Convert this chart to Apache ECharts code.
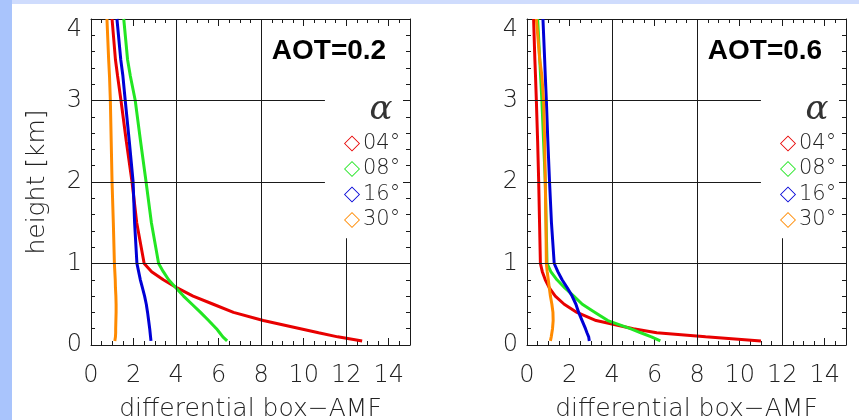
<!DOCTYPE html>
<html><head><meta charset="utf-8">
<script src="https://cdn.jsdelivr.net/npm/echarts@6/dist/echarts.min.js"></script>
<style>html,body{margin:0;padding:0;background:#fff}#c{width:859px;height:420px}</style>
</head><body><div id="c"></div><script>
// heights [km] at which the profiles are sampled
const heights = [4.0, 3.5, 3.3, 3.0, 2.5, 2.0, 1.5, 1.0, 0.9, 0.8, 0.7, 0.6, 0.5, 0.4, 0.3, 0.2, 0.15, 0.1, 0.05];
// AOT = 0.2 panel, differential box-AMF per elevation angle
const aot02_a04 = [0.99, 1.15, 1.25, 1.41, 1.66, 1.93, 2.15, 2.5, 2.85, 3.4, 4.05, 4.8, 5.75, 6.7, 8.1, 9.85, 10.7, 11.6, 12.75];
const aot02_a08 = [1.54, 1.72, 1.85, 2.08, 2.33, 2.59, 2.84, 3.18, 3.4, 3.65, 4.0, 4.35, 4.75, 5.15, 5.53, 5.9, 6.05, 6.2, 6.4];
const aot02_a16 = [1.22, 1.4, 1.5, 1.61, 1.8, 1.98, 2.05, 2.16, 2.24, 2.32, 2.42, 2.52, 2.6, 2.66, 2.71, 2.76, 2.78, 2.8, 2.82];
const aot02_a30 = [0.75, 0.83, 0.87, 0.91, 0.95, 0.99, 1.05, 1.1, 1.12, 1.14, 1.15, 1.17, 1.18, 1.18, 1.17, 1.16, 1.16, 1.15, 1.12];
// AOT = 0.6 panel
const aot06_a04 = [0.31, 0.37, 0.4, 0.44, 0.5, 0.55, 0.59, 0.63, 0.72, 0.86, 1.05, 1.33, 1.75, 2.35, 3.25, 5.0, 6.1, 8.4, 11.0];
const aot06_a08 = [0.5, 0.6, 0.64, 0.7, 0.78, 0.86, 0.9, 0.94, 1.12, 1.41, 1.78, 2.2, 2.6, 3.2, 3.8, 4.86, 5.35, 5.85, 6.27];
const aot06_a16 = [0.75, 0.83, 0.86, 0.91, 0.98, 1.06, 1.15, 1.28, 1.45, 1.65, 1.9, 2.12, 2.3, 2.43, 2.59, 2.75, 2.82, 2.9, 2.93];
const aot06_a30 = [0.44, 0.6, 0.7, 0.78, 0.83, 0.86, 0.89, 0.91, 0.95, 1.0, 1.05, 1.1, 1.17, 1.22, 1.23, 1.2, 1.17, 1.14, 1.1];

const seriesNames = ['04°', '08°', '16°', '30°'];
const panelTitles = ['AOT=0.2', 'AOT=0.6'];
const panelData = [
  [aot02_a04, aot02_a08, aot02_a16, aot02_a30],
  [aot06_a04, aot06_a08, aot06_a16, aot06_a30]
];
const xName = 'differential box−AMF';
const yName = 'height [km]';
// grid lines (data units)
const gridFullX = [4, 8];
const gridShortX = 12, gridShortXTop = 1.31;
const gridFullY = [1];
const gridShortY = [2, 3], gridShortYEnd = 11;

const colors = ['#e80000', '#22e622', '#0000d6', '#ff8a00'];
const ink = '#1a1a1a';
const thinFont = 'DejaVu Sans';
const diamondRing = 'path://M0,-8L8,0L0,8L-8,0ZM0,-6.8L-6.8,0L0,6.8L6.8,0Z';

const chart = echarts.init(document.getElementById('c'), null, {renderer: 'canvas'});

const gridLeft = [91, 527];
const grids = gridLeft.map(l => ({left: l, top: 19, width: 319, height: 326, outerBoundsMode: 'none', containLabel: false}));

const xAxes = [], yAxes = [], series = [];
gridLeft.forEach((gl, p) => {
  xAxes.push({
    type: 'value', gridIndex: p, position: 'bottom', min: 0, max: 15, interval: 2,
    axisLine: {show: true, onZero: false, lineStyle: {color: ink, width: 1}},
    axisTick: {show: true, inside: true, length: 7, lineStyle: {color: ink}},
    minorTick: {show: true, splitNumber: 4, length: 4, lineStyle: {color: ink}},
    splitLine: {show: false},
    axisLabel: {show: true, margin: 19, fontSize: 24, fontFamily: thinFont, fontWeight: 200, color: '#222', showMaxLabel: false},
    name: xName, nameLocation: 'middle', nameGap: 52,
    nameTextStyle: {fontSize: 25, fontFamily: thinFont, fontWeight: 200, color: '#222'}
  });
  xAxes.push({
    type: 'value', gridIndex: p, position: 'top', min: 0, max: 15, interval: 2,
    axisLine: {show: true, onZero: false, lineStyle: {color: ink, width: 1}},
    axisTick: {show: true, inside: true, length: 7, lineStyle: {color: ink}},
    minorTick: {show: true, splitNumber: 4, length: 4, lineStyle: {color: ink}},
    splitLine: {show: false}, axisLabel: {show: false}
  });
  yAxes.push({
    type: 'value', gridIndex: p, position: 'left', min: 0, max: 4, interval: 1,
    axisLine: {show: true, onZero: false, lineStyle: {color: ink, width: 1}},
    axisTick: {show: true, inside: true, length: 7, lineStyle: {color: ink}},
    minorTick: {show: true, splitNumber: 5, length: 4, lineStyle: {color: ink}},
    splitLine: {show: false},
    axisLabel: {
      show: true, margin: 9, fontSize: 24, fontFamily: thinFont, fontWeight: 200, color: '#222',
      formatter: v => v === 4 ? '{t|4}' : String(v),
      rich: {t: {padding: [22, 0, 0, 0], fontSize: 24, fontFamily: thinFont, fontWeight: 200, color: '#222'}}
    },
    name: p === 0 ? yName : '', nameLocation: 'middle', nameGap: 41, nameRotate: 90,
    nameTextStyle: {fontSize: 25, fontFamily: thinFont, fontWeight: 200, color: '#222'}
  });
  yAxes.push({
    type: 'value', gridIndex: p, position: 'right', min: 0, max: 4, interval: 1,
    axisLine: {show: true, onZero: false, lineStyle: {color: ink, width: 1}},
    axisTick: {show: true, inside: true, length: 7, lineStyle: {color: ink}},
    minorTick: {show: true, splitNumber: 5, length: 4, lineStyle: {color: ink}},
    splitLine: {show: false}, axisLabel: {show: false}
  });

  const ml = [];
  gridFullX.forEach(x => ml.push([{coord: [x, 0]}, {coord: [x, 4]}]));
  ml.push([{coord: [gridShortX, 0]}, {coord: [gridShortX, gridShortXTop]}]);
  gridFullY.forEach(y => ml.push([{coord: [0, y]}, {coord: [15, y]}]));
  gridShortY.forEach(y => ml.push([{coord: [0, y]}, {coord: [gridShortYEnd, y]}]));
  series.push({
    type: 'line', name: 'grid' + p, xAxisIndex: p * 2, yAxisIndex: p * 2, data: [], z: 1, silent: true,
    markLine: {silent: true, symbol: 'none', label: {show: false}, animation: false,
      lineStyle: {color: ink, width: 1, type: 'solid'}, emphasis: {disabled: true}, data: ml}
  });

  panelData[p].forEach((vals, k) => {
    series.push({
      type: 'line', name: seriesNames[k], xAxisIndex: p * 2, yAxisIndex: p * 2,
      data: heights.map((h, i) => [vals[i], h]),
      showSymbol: false, symbol: 'none', z: 3, clip: true, animation: false,
      color: colors[k],
      lineStyle: {color: colors[k], width: 3}
    });
  });
});

const legends = gridLeft.map(gl => ({
  data: seriesNames.map(n => ({name: n, icon: diamondRing})),
  orient: 'vertical', left: gl + 248, top: 128,
  itemWidth: 16, itemHeight: 16, itemGap: 4.5,
  textStyle: {fontSize: 21, fontFamily: thinFont, fontWeight: 200, color: '#222', padding: [0, 0, 0, -2]},
  selectedMode: false
}));

const graphics = [
  {type: 'rect', shape: {x: 0, y: 0, width: 859, height: 4}, style: {fill: '#cfdcfd'}, silent: true},
  {type: 'rect', shape: {x: 0, y: 0, width: 12, height: 420}, style: {fill: '#a9c4fc'}, silent: true}
];
gridLeft.forEach((gl, p) => {
  graphics.push({type: 'text', x: gl + 238, y: 51, silent: true,
    style: {text: panelTitles[p], fill: '#000', font: 'bold 28px "Liberation Sans", Arial, sans-serif', align: 'center', verticalAlign: 'middle'}});
  graphics.push({type: 'text', x: gl + 290, y: 110, silent: true,
    style: {text: 'α', fill: '#333', font: 'italic 200 34px "DejaVu Serif", serif', align: 'center', verticalAlign: 'middle'}});
});

chart.setOption({
  backgroundColor: '#ffffff',
  animation: false,
  grid: grids,
  xAxis: xAxes,
  yAxis: yAxes,
  legend: legends,
  graphic: graphics,
  series: series
});
</script></body></html>
